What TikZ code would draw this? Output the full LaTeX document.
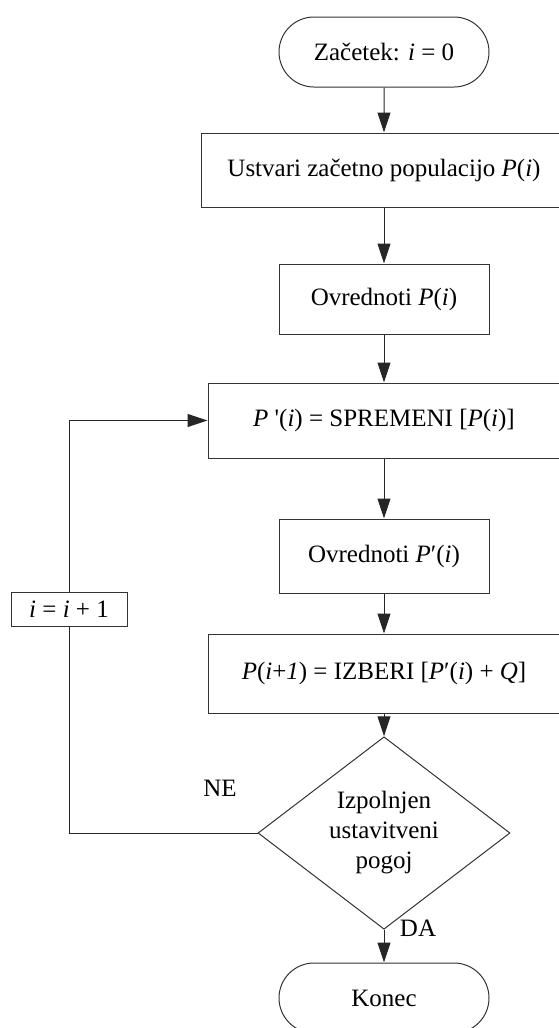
\documentclass[tikz,border=0pt]{standalone}
\usepackage{fontspec}
\setmainfont{Liberation Serif}
\usetikzlibrary{shapes.geometric,shapes.misc,arrows.meta}
\begin{document}
\begin{tikzpicture}[x=1pt,y=-1pt,
  every node/.style={font=\fontsize{25}{30}\selectfont},
  box/.style={draw=black!80, line width=1pt, rectangle, inner sep=0pt},
  term/.style={draw=black!80, line width=1pt, rounded rectangle, inner sep=0pt,
    minimum width=210pt, minimum height=70pt},
  cond/.style={draw=black!80, line width=1pt, diamond, inner sep=0pt,
    minimum width=252pt, minimum height=150pt, align=center},
  link/.style={draw=black!85, line width=1pt},
  flow/.style={link, -{Triangle[length=20pt,width=13pt]}},
  lbl/.style={inner sep=0pt}
]
\useasboundingbox (0,0) rectangle (559,1028);
\clip (0,0) rectangle (559,1028);

% main column
\node[term] (start) at (384,52) {Začetek: \textit{i} = 0};
\node[box, minimum width=366pt, minimum height=74pt] (init) at (384,170)
  {Ustvari začetno populacijo \textit{P}(\textit{i})};
\node[box, minimum width=210pt, minimum height=70pt] (evalA) at (384,299)
  {Ovrednoti \textit{P}(\textit{i})};
\node[box, minimum width=352pt, minimum height=75pt] (modify) at (384,420.5)
  {\textit{P} \textquotesingle(\textit{i}) = SPREMENI [\textit{P}(\textit{i})]};
\node[box, minimum width=210pt, minimum height=74pt] (evalB) at (384,556)
  {Ovrednoti \textit{P}′(\textit{i})};
\node[box, minimum width=352pt, minimum height=79pt] (select) at (384,673.5)
  {\textit{P}(\textit{i}+\textit{1}) = IZBERI [\textit{P}′(\textit{i}) + \textit{Q}]};
\node[cond] (stop) at (384,833) {Izpolnjen\\ustavitveni\\pogoj};
\node[term] (finish) at (384,998) {Konec};

% loop counter
\node[box, minimum width=116pt, minimum height=34pt] (inc) at (69,609)
  {\textit{i} = \textit{i} + 1};

% connectors
\draw[flow] (start) -- (init);
\draw[flow] (init) -- (evalA);
\draw[flow] (evalA) -- (modify);
\draw[flow] (modify) -- (evalB);
\draw[flow] (evalB) -- (select);
\draw[flow] (select) -- (stop);
\draw[flow] (stop) -- (finish);
\draw[link] (stop.west) -| (inc.south);
\draw[flow] (inc.north) |- (modify.west);

% branch labels
\node[lbl] (no) at (220,788) {NE};
\node[lbl] (yes) at (418,928) {DA};
\end{tikzpicture}
\end{document}
